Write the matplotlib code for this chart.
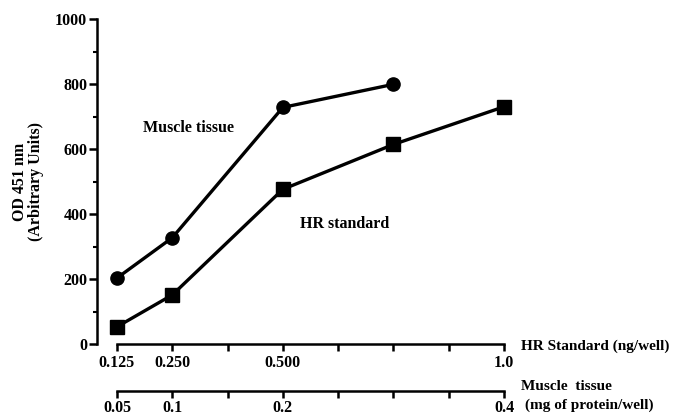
import matplotlib.pyplot as plt
import numpy as np

# HR standard concentration (ng/well) and matching muscle tissue amount (mg protein/well)
hr_x = [0.125, 0.25, 0.5, 0.75, 1.0]
hr_y = [53, 151, 476, 614, 730]
muscle_x_hr = [0.125, 0.25, 0.5, 0.75]  # position on the HR scale
muscle_y = [203, 327, 728, 799]

hr_ticks = [0.125, 0.25, 0.375, 0.5, 0.625, 0.75, 0.875, 1.0]
hr_labels = ['0.125', '0.250', '', '0.500', '', '', '', '1.0']
mus_ticks = [0.05, 0.1, 0.15, 0.2, 0.25, 0.3, 0.35, 0.4]
mus_labels = ['0.05', '0.1', '', '0.2', '', '', '', '0.4']

plt.rcParams['font.family'] = 'Liberation Serif'
plt.rcParams['font.weight'] = 'bold'
fs = 11.5
lw_axis = 1.8

fig = plt.figure(figsize=(6.75, 4.17), dpi=100)
ax = fig.add_axes([97 / 675, 1 - 344 / 417, (504 - 97) / 675, (344 - 19) / 417])

ax.plot(muscle_x_hr, muscle_y, color='black', lw=2.4, marker='o', ms=9.5, clip_on=False)
ax.plot(hr_x, hr_y, color='black', lw=2.4, marker='s', ms=9.5, clip_on=False)

xmin = 0.125 - 0.125 * 20 / 55.3
ax.set_xlim(xmin, 1.0)
ax.set_ylim(0, 1000)

for s in ['top', 'right']:
    ax.spines[s].set_visible(False)
ax.spines['left'].set_linewidth(lw_axis)
ax.spines['bottom'].set_linewidth(lw_axis)
ax.spines['bottom'].set_bounds(0.125, 1.0)

ax.set_yticks([0, 200, 400, 600, 800, 1000])
ax.set_yticks(np.arange(100, 1000, 200), minor=True)
ax.tick_params(axis='y', which='major', length=6, width=1.8, labelsize=fs, pad=1)
ax.tick_params(axis='y', which='minor', length=3, width=1.5)
ax.set_xticks(hr_ticks)
ax.set_xticklabels(hr_labels)
ax.tick_params(axis='x', which='major', length=5, width=1.8, labelsize=fs, pad=3)

ax.set_ylabel('OD 451 nm\n(Arbitrary Units)', fontsize=fs, fontweight='bold', labelpad=8, linespacing=1.0)

fig.text(143 / 675, 1 - 128 / 417, 'Muscle tissue', fontsize=fs, va='center', ha='left')
fig.text(300 / 675, 1 - 224 / 417, 'HR standard', fontsize=fs, va='center', ha='left')
fig.text(521 / 675, 1 - 346 / 417, 'HR Standard (ng/well)', fontsize=11, va='center', ha='left')

# second (muscle tissue) scale below
ax2 = fig.add_axes([97 / 675, 1 - 391 / 417, (504 - 97) / 675, 0.001])
ax2.set_xlim(xmin * 0.4, 0.4)
ax2.set_ylim(0, 1)
for s in ['top', 'right', 'left']:
    ax2.spines[s].set_visible(False)
ax2.spines['bottom'].set_linewidth(lw_axis)
ax2.spines['bottom'].set_bounds(0.05, 0.4)
ax2.set_yticks([])
ax2.set_xticks(mus_ticks)
ax2.set_xticklabels(mus_labels)
ax2.tick_params(axis='x', which='major', length=5, width=1.8, labelsize=fs, pad=1.5)
ax2.patch.set_visible(False)

fig.text(521 / 675, 1 - 387 / 417, 'Muscle  tissue', fontsize=11, va='center', ha='left')
fig.text(525 / 675, 1 - 405 / 417, '(mg of protein/well)', fontsize=11, va='center', ha='left')

plt.savefig('out.png', dpi=100)
